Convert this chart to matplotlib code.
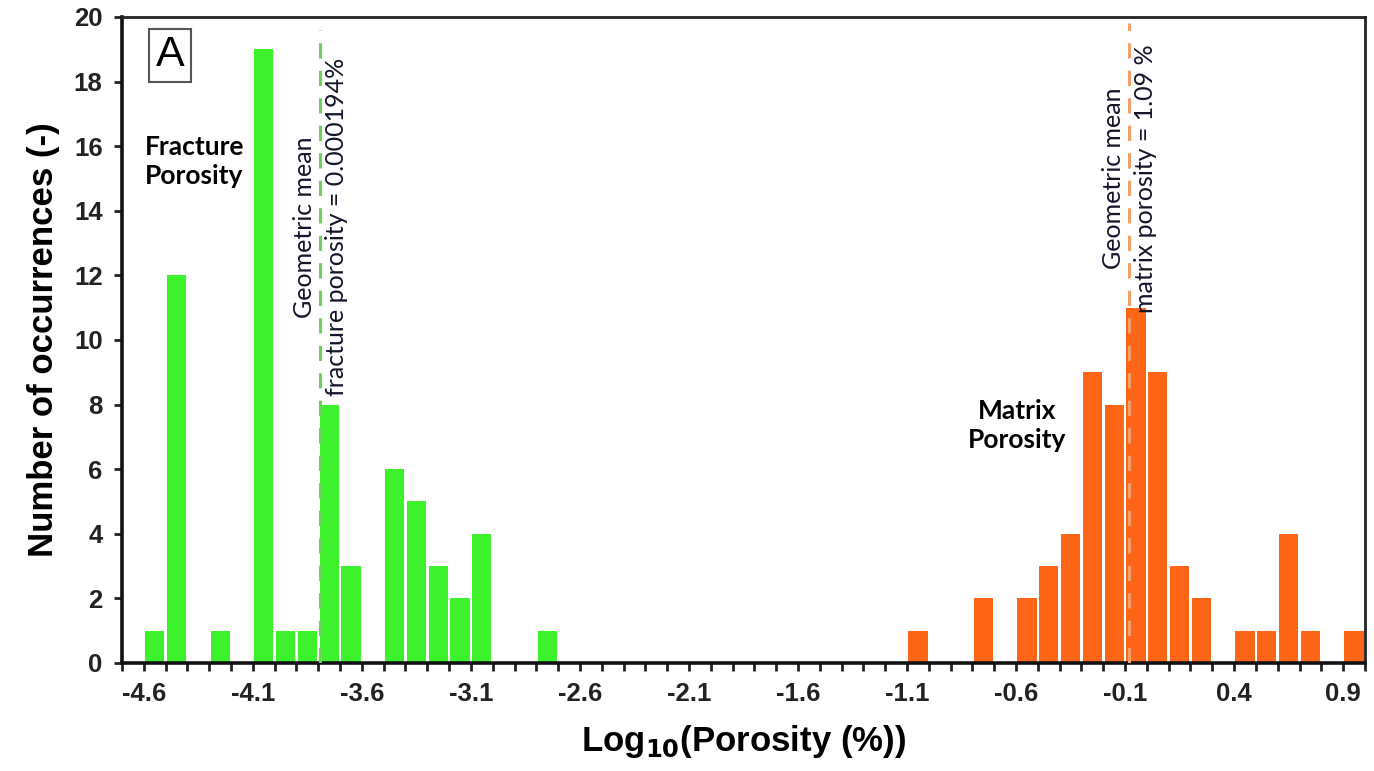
import matplotlib
matplotlib.use("Agg")
import matplotlib.pyplot as plt
from matplotlib.ticker import MultipleLocator
import numpy as np

# ---- data ----
fracture_bin_start = [-4.6, -4.5, -4.3, -4.1, -4.0, -3.9, -3.8, -3.7, -3.5, -3.4, -3.3, -3.2, -3.1, -2.8]
fracture_counts    = [1, 12, 1, 19, 1, 1, 8, 3, 6, 5, 3, 2, 4, 1]
matrix_bin_start   = [-1.1, -0.8, -0.6, -0.5, -0.4, -0.3, -0.2, -0.1, 0.0, 0.1, 0.2, 0.4, 0.5, 0.6, 0.7, 0.9]
matrix_counts      = [1, 2, 2, 3, 4, 9, 8, 11, 9, 3, 2, 1, 1, 4, 1, 1]
fracture_mean_x = -3.79
matrix_mean_x = -0.08
xtick_labels = [-4.6, -4.1, -3.6, -3.1, -2.6, -2.1, -1.6, -1.1, -0.6, -0.1, 0.4, 0.9]

green = "#3df22c"
orange = "#ff6516"
bin_w = 0.1

fig = plt.figure(figsize=(13.74, 7.71), dpi=100)
ax = fig.add_axes([0.0888, 0.1401, 0.9046, 0.8379])

ax.bar(np.array(fracture_bin_start) + bin_w / 2, fracture_counts, width=0.088,
       color=green, edgecolor="none", zorder=2)
ax.bar(np.array(matrix_bin_start) + bin_w / 2, matrix_counts, width=0.088,
       color=orange, edgecolor="none", zorder=2)

ax.plot([fracture_mean_x, fracture_mean_x], [0, 19.6], ls=(0, (5, 4)), color="#6fcf5f",
        lw=2.2, zorder=3)
ax.plot([matrix_mean_x, matrix_mean_x], [0, 19.8], ls=(0, (5, 4)), color="#f2a06a",
        lw=2.2, zorder=3)

ax.set_xlim(-4.7, 1.0)
ax.set_ylim(0, 20)
ax.set_xticks(xtick_labels)
ax.set_xticklabels([f"{v:.1f}" for v in xtick_labels])
ax.xaxis.set_minor_locator(MultipleLocator(0.1))
ax.set_yticks(range(0, 21, 2))
ax.tick_params(axis="x", which="both", direction="out", length=6, width=2, color="#222222",
               labelsize=18, pad=8)
ax.tick_params(axis="y", which="major", direction="out", length=6, width=2, color="#222222",
               labelsize=18, pad=8)
for lab in ax.get_xticklabels() + ax.get_yticklabels():
    lab.set_fontweight("bold")
    lab.set_family("Liberation Sans")
    lab.set_fontsize(18.5)
    lab.set_color("#222222")

for side in ["left", "bottom"]:
    ax.spines[side].set_linewidth(2.6)
    ax.spines[side].set_color("#111111")
for side in ["top", "right"]:
    ax.spines[side].set_linewidth(2.0)
    ax.spines[side].set_color("#222222")

ax.set_ylabel("Number of occurrences (-)", fontsize=25, fontweight="bold",
              family="Liberation Sans", labelpad=10)
ax.set_xlabel(r"Log$_{\mathbf{10}}$(Porosity (%))", fontsize=25, fontweight="bold",
              family="Liberation Sans", labelpad=12)

# panel label
ax.text(0.0386, 0.941, "A", transform=ax.transAxes, fontsize=31, family="Liberation Sans",
        ha="center", va="center",
        bbox=dict(boxstyle="square,pad=0.15", fc="white", ec="#555555", lw=1.5))

ax.text(0.0185, 0.776, "Fracture\nPorosity", transform=ax.transAxes, fontsize=19,
        fontweight="bold", family="Lato", ha="left", va="center", linespacing=1.25)
ax.text(0.72, 0.368, "Matrix\nPorosity", transform=ax.transAxes, fontsize=19,
        fontweight="bold", family="Lato", ha="center", va="center", linespacing=1.25)

ax.text(fracture_mean_x, 13.5, "Geometric mean\nfracture porosity = 0.000194%",
        rotation=90, fontsize=18, family="Lato", color="#14142a", ha="center",
        va="center", multialignment="center", linespacing=1.5)
ax.text(matrix_mean_x, 15.0, "Geometric mean\nmatrix porosity = 1.09 %",
        rotation=90, fontsize=18, family="Lato", color="#14142a", ha="center",
        va="center", multialignment="center", linespacing=1.5)

fig.savefig("out.png", dpi=100)
